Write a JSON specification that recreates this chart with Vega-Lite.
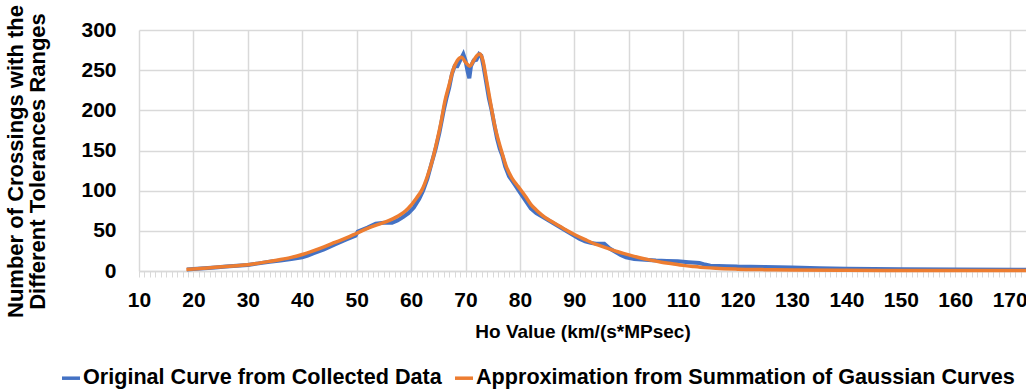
{
  "$schema": "https://vega.github.io/schema/vega-lite/v6.json",
  "width": 887,
  "height": 241,
  "autosize": {"type": "none"},
  "padding": {"left": 139, "top": 30, "right": 0, "bottom": 120},
  "background": "white",
  "config": {"font": "Liberation Sans", "view": {"stroke": null}},
  "datasets": {
    "orig": [
      {"ho": 18.8, "n": 2}, {"ho": 20, "n": 2.5}, {"ho": 22, "n": 3.5}, {"ho": 24, "n": 4.5}, {"ho": 26, "n": 5.5},
      {"ho": 28, "n": 6.5}, {"ho": 30, "n": 7.5}, {"ho": 32, "n": 9.5}, {"ho": 34, "n": 11.5}, {"ho": 36, "n": 13},
      {"ho": 38, "n": 15}, {"ho": 40, "n": 17}, {"ho": 41, "n": 19}, {"ho": 42, "n": 22}, {"ho": 44, "n": 27},
      {"ho": 46, "n": 33}, {"ho": 48, "n": 39}, {"ho": 49.8, "n": 44}, {"ho": 50.2, "n": 49}, {"ho": 52, "n": 54},
      {"ho": 53.5, "n": 59}, {"ho": 55, "n": 60}, {"ho": 56.5, "n": 60}, {"ho": 57.5, "n": 63}, {"ho": 58.5, "n": 67},
      {"ho": 59.5, "n": 72}, {"ho": 60.5, "n": 79}, {"ho": 61.5, "n": 90}, {"ho": 62.2, "n": 100}, {"ho": 63, "n": 115},
      {"ho": 63.8, "n": 135}, {"ho": 64.5, "n": 152}, {"ho": 65.2, "n": 172}, {"ho": 66, "n": 200}, {"ho": 66.5, "n": 215},
      {"ho": 67, "n": 228}, {"ho": 67.5, "n": 245}, {"ho": 68, "n": 255}, {"ho": 68.5, "n": 255}, {"ho": 69, "n": 262},
      {"ho": 69.6, "n": 270}, {"ho": 70, "n": 262}, {"ho": 70.4, "n": 248}, {"ho": 70.7, "n": 240}, {"ho": 71, "n": 255},
      {"ho": 71.5, "n": 262}, {"ho": 72, "n": 263}, {"ho": 72.5, "n": 270}, {"ho": 72.9, "n": 268}, {"ho": 73.3, "n": 255},
      {"ho": 73.8, "n": 235}, {"ho": 74.3, "n": 215}, {"ho": 74.8, "n": 200}, {"ho": 75.3, "n": 182}, {"ho": 75.8, "n": 165},
      {"ho": 76.3, "n": 152}, {"ho": 76.8, "n": 143}, {"ho": 77.3, "n": 130}, {"ho": 78, "n": 118}, {"ho": 79, "n": 108},
      {"ho": 80, "n": 98}, {"ho": 81, "n": 88}, {"ho": 82, "n": 78}, {"ho": 83, "n": 72}, {"ho": 84, "n": 68},
      {"ho": 85, "n": 64}, {"ho": 86, "n": 60}, {"ho": 87, "n": 56}, {"ho": 88, "n": 52}, {"ho": 89, "n": 48},
      {"ho": 90, "n": 44}, {"ho": 91, "n": 40}, {"ho": 92, "n": 37}, {"ho": 93, "n": 35}, {"ho": 94, "n": 34},
      {"ho": 95.5, "n": 34}, {"ho": 96.5, "n": 28}, {"ho": 97.5, "n": 24}, {"ho": 98.5, "n": 20}, {"ho": 99.5, "n": 17},
      {"ho": 101, "n": 15}, {"ho": 103, "n": 14}, {"ho": 105, "n": 13}, {"ho": 107, "n": 12.5}, {"ho": 109, "n": 12},
      {"ho": 111, "n": 11}, {"ho": 113, "n": 10}, {"ho": 114, "n": 8}, {"ho": 115, "n": 6.5}, {"ho": 118, "n": 6},
      {"ho": 120, "n": 5.5}, {"ho": 125, "n": 5}, {"ho": 130, "n": 4.5}, {"ho": 135, "n": 3.5}, {"ho": 140, "n": 2.8},
      {"ho": 150, "n": 2.2}, {"ho": 160, "n": 1.8}, {"ho": 173, "n": 1.5}
    ],
    "approx": [
      {"ho": 18.7, "n": 2}, {"ho": 20, "n": 2.5}, {"ho": 22, "n": 3.5}, {"ho": 24, "n": 4.6}, {"ho": 26, "n": 5.6},
      {"ho": 28, "n": 6.6}, {"ho": 30, "n": 7.8}, {"ho": 32, "n": 9.8}, {"ho": 34, "n": 12}, {"ho": 36, "n": 14.3},
      {"ho": 38, "n": 17}, {"ho": 40, "n": 20.5}, {"ho": 42, "n": 25}, {"ho": 44, "n": 30}, {"ho": 46, "n": 35.5},
      {"ho": 48, "n": 41}, {"ho": 50, "n": 47}, {"ho": 52, "n": 53}, {"ho": 54, "n": 58}, {"ho": 56, "n": 63},
      {"ho": 58, "n": 70}, {"ho": 59, "n": 75}, {"ho": 60, "n": 82}, {"ho": 61, "n": 91}, {"ho": 62, "n": 101},
      {"ho": 63, "n": 118}, {"ho": 64, "n": 140}, {"ho": 64.7, "n": 160}, {"ho": 65.5, "n": 185}, {"ho": 66.2, "n": 211},
      {"ho": 67, "n": 232}, {"ho": 67.7, "n": 250}, {"ho": 68.5, "n": 262}, {"ho": 69.3, "n": 266}, {"ho": 70, "n": 260},
      {"ho": 70.8, "n": 255}, {"ho": 71.5, "n": 262}, {"ho": 72.2, "n": 269}, {"ho": 72.7, "n": 270}, {"ho": 73.2, "n": 262},
      {"ho": 73.8, "n": 240}, {"ho": 74.5, "n": 213}, {"ho": 75.4, "n": 180}, {"ho": 76.5, "n": 152}, {"ho": 77.5, "n": 130},
      {"ho": 78.5, "n": 116}, {"ho": 79.7, "n": 105}, {"ho": 81, "n": 93}, {"ho": 82, "n": 83}, {"ho": 83, "n": 76},
      {"ho": 84, "n": 70}, {"ho": 85, "n": 65}, {"ho": 86, "n": 61}, {"ho": 87, "n": 57}, {"ho": 88, "n": 53},
      {"ho": 89, "n": 49}, {"ho": 90, "n": 45.5}, {"ho": 92, "n": 39}, {"ho": 94, "n": 33}, {"ho": 96, "n": 28.5},
      {"ho": 98, "n": 24}, {"ho": 100, "n": 20}, {"ho": 102, "n": 16.5}, {"ho": 104, "n": 13.5}, {"ho": 106, "n": 11},
      {"ho": 108, "n": 9}, {"ho": 110, "n": 7}, {"ho": 112, "n": 5.5}, {"ho": 114, "n": 4.2}, {"ho": 116, "n": 3.3},
      {"ho": 120, "n": 2.3}, {"ho": 125, "n": 1.7}, {"ho": 130, "n": 1.3}, {"ho": 140, "n": 0.9}, {"ho": 150, "n": 0.7},
      {"ho": 160, "n": 0.6}, {"ho": 173, "n": 0.5}
    ]
  },
  "encoding": {
    "x": {
      "field": "ho", "type": "quantitative",
      "scale": {"domain": [10, 173], "nice": false, "zero": false},
      "axis": {
        "title": "Ho Value (km/(s*MPsec)",
        "titleFontSize": 19, "titleFontWeight": "bold", "titleColor": "#000",
        "titleBaseline": "middle", "titleY": 60,
        "tickCount": 163,
        "labelExpr": "datum.value % 10 === 0 ? datum.label : ''",
        "labelOverlap": false,
        "labelFontSize": 21, "labelFontWeight": "bold", "labelColor": "#000",
        "labelPadding": 12, "labelFlush": false,
        "grid": true, "gridColor": "#d9d9d9", "gridWidth": 1.5,
        "gridOpacity": {"condition": {"test": "datum.value % 10 === 0", "value": 1}, "value": 0},
        "ticks": true, "tickColor": "#d9d9d9", "tickSize": 6, "tickWidth": 1,
        "domain": true, "domainColor": "#d9d9d9", "domainWidth": 1.5
      }
    },
    "y": {
      "field": "n", "type": "quantitative",
      "scale": {"domain": [0, 300], "nice": false},
      "axis": {
        "title": ["Number of Crossings with the", "Different Tolerances Ranges"],
        "titleFontSize": 22, "titleFontWeight": "bold", "titleColor": "#000",
        "titleLineHeight": 22, "titleBaseline": "bottom", "titleX": -112, "titleY": 131,
        "values": [0, 50, 100, 150, 200, 250, 300],
        "labelFontSize": 21, "labelFontWeight": "bold", "labelColor": "#000",
        "labelPadding": 23,
        "grid": true, "gridColor": "#d9d9d9", "gridWidth": 1.5,
        "ticks": false, "domain": false
      }
    },
    "color": {
      "field": "s", "type": "nominal",
      "scale": {
        "domain": ["Original Curve from Collected Data", "Approximation from Summation of Gaussian Curves"],
        "range": ["#4472C4", "#ED7D31"]
      },
      "legend": {
        "title": null, "orient": "none", "direction": "horizontal",
        "legendX": -79, "legendY": 337,
        "symbolType": "stroke", "symbolStrokeWidth": 3.5, "symbolSize": 324,
        "labelFontSize": 21.6, "labelFontWeight": "bold", "labelColor": "#000",
        "labelOffset": 1, "columnPadding": 6, "labelLimit": 700
      }
    }
  },
  "layer": [
    {
      "data": {"name": "orig"},
      "mark": {"type": "line", "strokeWidth": 4, "interpolate": "linear"},
      "encoding": {"color": {"datum": "Original Curve from Collected Data"}}
    },
    {
      "data": {"name": "approx"},
      "mark": {"type": "line", "strokeWidth": 3.5, "interpolate": "monotone"},
      "encoding": {"color": {"datum": "Approximation from Summation of Gaussian Curves"}}
    }
  ]
}
